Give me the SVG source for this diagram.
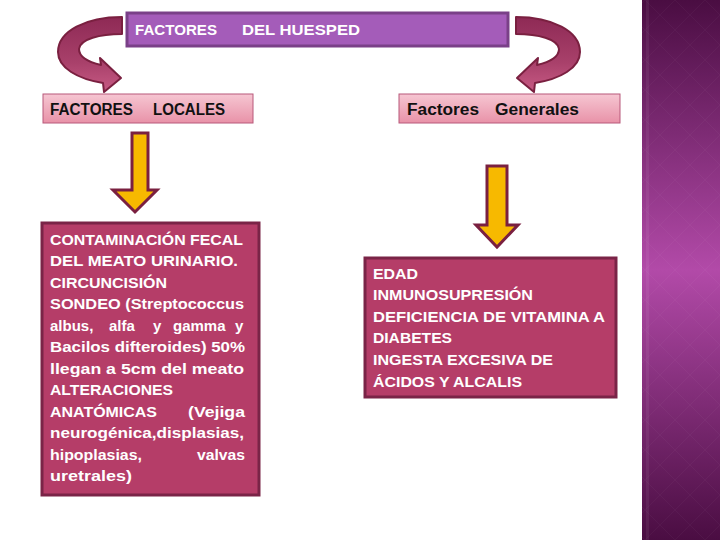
<svg xmlns="http://www.w3.org/2000/svg" width="720" height="540" viewBox="0 0 720 540">
<defs>
<linearGradient id="side" x1="0" y1="0" x2="0" y2="1">
<stop offset="0" stop-color="#4a0d42"/>
<stop offset="0.5" stop-color="#b24aa8"/>
<stop offset="1" stop-color="#4a0d42"/>
</linearGradient>
<linearGradient id="pink" x1="0" y1="0" x2="0" y2="1">
<stop offset="0" stop-color="#f6c6d2"/>
<stop offset="1" stop-color="#e892a8"/>
</linearGradient>
<linearGradient id="ribbon" x1="0" y1="0" x2="0" y2="1">
<stop offset="0" stop-color="#8e2a55"/>
<stop offset="0.6" stop-color="#a8406a"/>
<stop offset="1" stop-color="#c75a84"/>
</linearGradient>
<pattern id="diam" width="30" height="30" patternUnits="userSpaceOnUse">
<path d="M15,0 L30,15 L15,30 L0,15 Z" fill="none" stroke="#ffffff" stroke-opacity="0.03" stroke-width="1"/>
</pattern>
<path id="curl" d="M122,17 L122,34 C100,34 80,39 79,49 C79,57 88,62 101,65 L100,58 L121,78 L104,92 L103,83 C78,79 58,68 58,52 C58,31 86,17 122,17 Z"/>
</defs>
<style>
.hdr{fill:url(#pink);stroke:#b8587a;stroke-width:1}
.body{fill:#b53d68;stroke:#7a2447;stroke-width:3}
.wt{fill:#ffffff;font-family:"Liberation Sans",Arial,sans-serif;font-weight:bold;font-size:15px}
.bk{fill:#111111;font-family:"Liberation Sans",Arial,sans-serif;font-weight:bold;font-size:16px}
.yarrow{fill:#f7b900;stroke:#7a2040;stroke-width:3;stroke-linejoin:miter}
.curl{fill:url(#ribbon);stroke:#7a2040;stroke-width:2;stroke-linejoin:round}
</style>
<rect width="720" height="540" fill="#ffffff"/>
<g id="sidebar">
<rect x="642" y="0" width="78" height="540" fill="url(#side)"/>
<rect x="642" y="0" width="78" height="540" fill="url(#diam)"/>
<rect x="646" y="0" width="3" height="540" fill="#ffffff" opacity="0.06"/>
</g>
<g id="connectors">
<use href="#curl" class="curl"/>
<use href="#curl" class="curl" transform="translate(638,0) scale(-1,1)"/>
<path class="yarrow" d="M132,133 L148,133 L148,190 L157,190 L135,212 L113,190 L132,190 Z"/>
<path class="yarrow" d="M487,166 L507,166 L507,225 L518,225 L497,247 L476,225 L487,225 Z"/>
</g>
<g id="huesped">
<rect x="127" y="13" width="381" height="33" fill="#a45cb9" stroke="#7a4088" stroke-width="3"/>
<text x="135" y="35" class="wt" font-size="17" textLength="82" lengthAdjust="spacingAndGlyphs">FACTORES</text>
<text x="242" y="35" class="wt" font-size="17" textLength="118" lengthAdjust="spacingAndGlyphs">DEL HUESPED</text>
</g>
<g id="locales">
<rect x="43" y="94" width="210" height="29" class="hdr"/>
<text x="50" y="115" class="bk" textLength="83" lengthAdjust="spacingAndGlyphs">FACTORES</text>
<text x="153" y="115" class="bk" textLength="72" lengthAdjust="spacingAndGlyphs">LOCALES</text>
</g>
<g id="generales">
<rect x="399" y="94" width="221" height="29" class="hdr"/>
<text x="407" y="115" class="bk" textLength="72" lengthAdjust="spacingAndGlyphs">Factores</text>
<text x="495" y="115" class="bk" textLength="84" lengthAdjust="spacingAndGlyphs">Generales</text>
</g>
<g id="locales-detalle">
<rect x="42" y="223" width="217" height="272" class="body"/>
<text x="50" y="245" class="wt" textLength="193" lengthAdjust="spacingAndGlyphs">CONTAMINACIÓN FECAL</text>
<text x="50" y="266" class="wt" textLength="188" lengthAdjust="spacingAndGlyphs">DEL MEATO URINARIO.</text>
<text x="50" y="288" class="wt" textLength="117" lengthAdjust="spacingAndGlyphs">CIRCUNCISIÓN</text>
<text x="50" y="309" class="wt" textLength="194" lengthAdjust="spacingAndGlyphs">SONDEO (Streptococcus</text>
<text y="331" class="wt"><tspan x="50">albus,</tspan><tspan x="109">alfa</tspan><tspan x="153">y</tspan><tspan x="173">gamma</tspan><tspan x="235">y</tspan></text>
<text x="50" y="352" class="wt" textLength="195" lengthAdjust="spacingAndGlyphs">Bacilos difteroides) 50%</text>
<text x="50" y="374" class="wt" textLength="194" lengthAdjust="spacingAndGlyphs">llegan a 5cm del meato</text>
<text x="50" y="395" class="wt" textLength="123" lengthAdjust="spacingAndGlyphs">ALTERACIONES</text>
<text x="50" y="417" class="wt" textLength="107" lengthAdjust="spacingAndGlyphs">ANATÓMICAS</text>
<text x="188" y="417" class="wt" textLength="57" lengthAdjust="spacingAndGlyphs">(Vejiga</text>
<text x="50" y="438" class="wt" textLength="194" lengthAdjust="spacingAndGlyphs">neurogénica,displasias,</text>
<text x="50" y="460" class="wt" textLength="92" lengthAdjust="spacingAndGlyphs">hipoplasias,</text>
<text x="197" y="460" class="wt" textLength="48" lengthAdjust="spacingAndGlyphs">valvas</text>
<text x="50" y="481" class="wt" textLength="82" lengthAdjust="spacingAndGlyphs">uretrales)</text>
</g>
<g id="generales-detalle">
<rect x="365" y="258" width="251" height="139" class="body"/>
<text x="373" y="279" class="wt" textLength="45" lengthAdjust="spacingAndGlyphs">EDAD</text>
<text x="373" y="300" class="wt" textLength="160" lengthAdjust="spacingAndGlyphs">INMUNOSUPRESIÓN</text>
<text x="373" y="322" class="wt" textLength="232" lengthAdjust="spacingAndGlyphs">DEFICIENCIA DE VITAMINA A</text>
<text x="373" y="343" class="wt" textLength="79" lengthAdjust="spacingAndGlyphs">DIABETES</text>
<text x="373" y="365" class="wt" textLength="180" lengthAdjust="spacingAndGlyphs">INGESTA EXCESIVA DE</text>
<text x="373" y="387" class="wt" textLength="149" lengthAdjust="spacingAndGlyphs">ÁCIDOS Y ALCALIS</text>
</g>
</svg>
